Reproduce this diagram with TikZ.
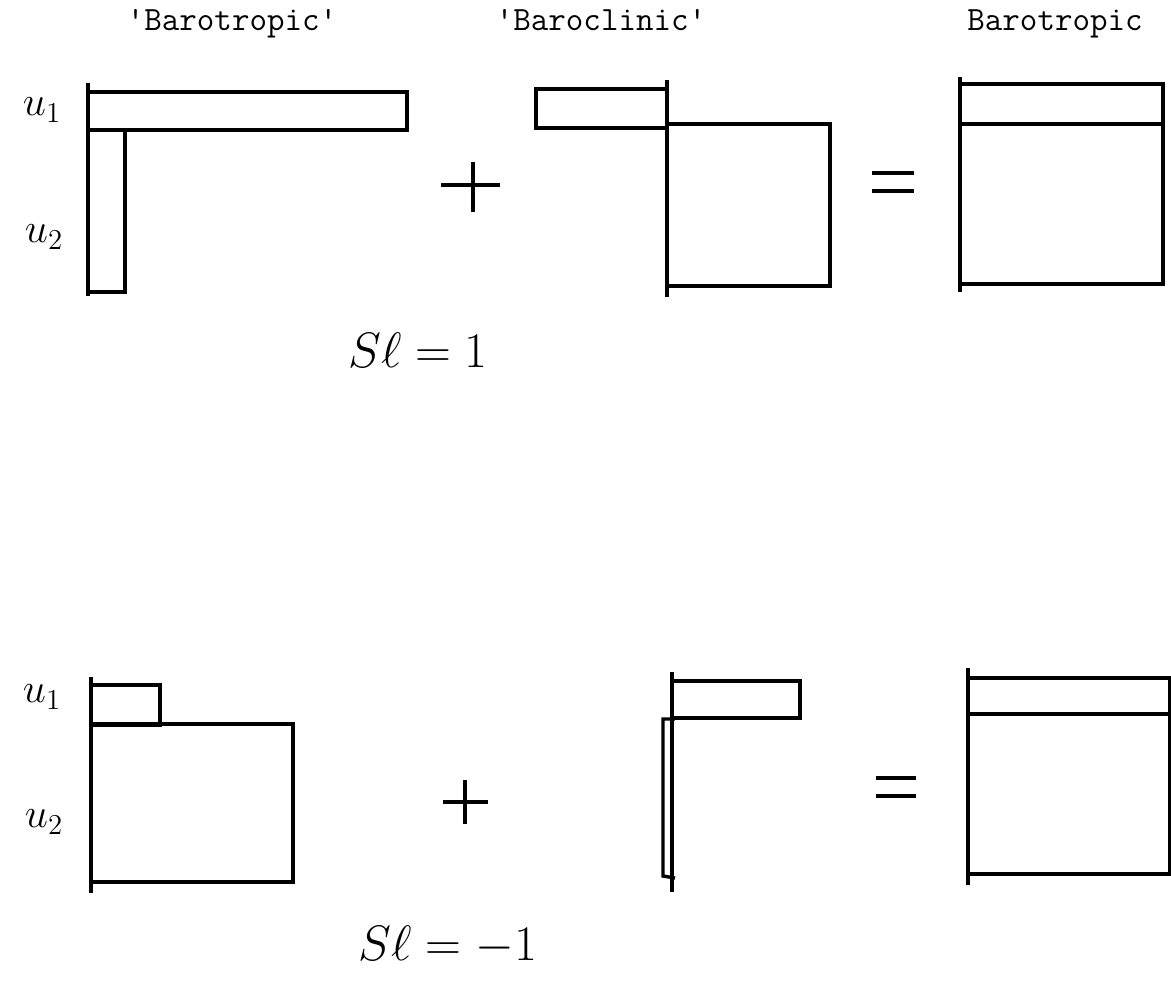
\documentclass[tikz,border=0pt]{standalone}
\begin{document}
\begin{tikzpicture}[x=0.5pt,y=-0.5pt,line width=1.7pt,
    head/.style={font=\ttfamily\fontsize{17}{20}\selectfont,anchor=base},
    hand/.style={font=\fontsize{20}{24}\selectfont},
    bigmath/.style={font=\fontsize{24}{28}\selectfont}]
    \useasboundingbox (0,0) rectangle (1171,987);
    % column headings
    \node[head] (hbt) at (232,30) {'Barotropic'};
    \node[head] (hbc) at (601,30) {'Baroclinic'};
    \node[head] (hsum) at (1055,30) {Barotropic};
    % layer labels
    \node[hand] (ua) at (42,110) {$u_1$};
    \node[hand] (ub) at (44,237) {$u_2$};
    \node[hand] (uc) at (42,697) {$u_1$};
    \node[hand] (ud) at (44,822) {$u_2$};
    % top row, barotropic part
    \draw (88,83) -- (88,296);
    \draw (88,92) rectangle (407,130);
    \draw (88,130) rectangle (125,292);
    % top row, baroclinic part
    \draw (667,80) -- (667,297);
    \draw (536,89) rectangle (667,128);
    \draw (667,124) rectangle (830,286);
    % top row, sum
    \draw (960,77) -- (960,292);
    \draw (960,84) rectangle (1163,284);
    \draw (960,124) -- (1163,124);
    % plus and equals
    \draw (441,185) -- (500,185);
    \draw (473,162) -- (473,212);
    \draw (872,173) -- (914,173);
    \draw (872,191) -- (914,191);
    \node[bigmath] (sla) at (418,350) {$S\ell = 1$};
    % bottom row, barotropic part
    \draw (91,677) -- (91,893);
    \draw (91,685) rectangle (160,725);
    \draw (91,724) rectangle (293,882);
    % bottom row, baroclinic part
    \draw (672,672) -- (672,892);
    \draw (672,681) rectangle (800,718);
    \draw (675,719) -- (663,719) -- (663,876) -- (675,878);
    % bottom row, sum
    \draw (968,668) -- (968,885);
    \draw (968,678) rectangle (1170,874);
    \draw (968,714) -- (1170,714);
    % plus and equals
    \draw (443,802) -- (488,802);
    \draw (465,780) -- (465,824);
    \draw (876,778) -- (916,778);
    \draw (876,796) -- (916,796);
    \node[bigmath] (slb) at (448,945) {$S\ell = -1$};
\end{tikzpicture}
\end{document}
